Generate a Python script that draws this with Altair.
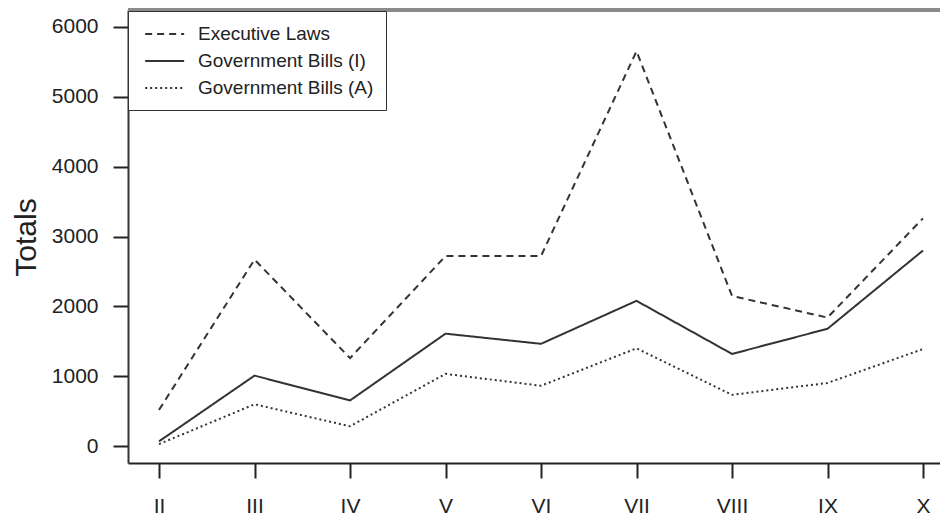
import altair as alt
import pandas as pd

labels = ["II", "III", "IV", "V", "VI", "VII", "VIII", "IX", "X"]
exec_laws = [520, 2670, 1260, 2720, 2720, 5650, 2150, 1840, 3260]
gov_bills_i = [70, 1010, 655, 1610, 1465, 2080, 1320, 1680, 2800]
gov_bills_a = [30, 600, 285, 1035, 865, 1400, 735, 905, 1390]

series_names = ["Executive Laws", "Government Bills (I)", "Government Bills (A)"]
series_vals = [exec_laws, gov_bills_i, gov_bills_a]

rows = []
for name, vals in zip(series_names, series_vals):
    for i, (lab, v) in enumerate(zip(labels, vals)):
        rows.append({"idx": i + 2, "label": lab, "series": name, "value": v})
df = pd.DataFrame(rows)

W, H = 812, 453
FONT = "Liberation Sans"
label_expr = "[" + ",".join("'%s'" % l for l in labels) + "][datum.value - 2]"

lines = alt.Chart(df).mark_line(color="#333333", strokeWidth=2).encode(
    x=alt.X("idx:Q",
            scale=alt.Scale(domain=[1.675, 10.178], nice=False, zero=False),
            axis=alt.Axis(values=list(range(2, 11)), labelExpr=label_expr, title=None,
                          grid=False, tickSize=15, tickWidth=2, domainWidth=2,
                          domainColor="#222222", tickColor="#222222",
                          labelFontSize=21, labelPadding=17, labelColor="#222222",
                          labelFont=FONT)),
    y=alt.Y("value:Q",
            scale=alt.Scale(domain=[-240, 6240], nice=False, zero=False),
            axis=alt.Axis(values=[0, 1000, 2000, 3000, 4000, 5000, 6000], format="d",
                          title="Totals", grid=False, tickSize=15, tickWidth=2,
                          domainWidth=2, domainColor="#333333", tickColor="#222222",
                          labelFontSize=21, labelPadding=15, labelColor="#222222",
                          labelFont=FONT, titleFont=FONT, titleFontSize=30,
                          titleFontWeight="normal", titleColor="#222222",
                          titleAngle=-90, titleBaseline="alphabetic", titleAlign="center",
                          titleX=-93, titleY=227)),
    strokeDash=alt.StrokeDash("series:N",
        scale=alt.Scale(domain=series_names, range=[[7, 5], [1, 0], [2, 3]]),
        legend=alt.Legend(title=None, orient="none", legendX=0, legendY=1,
                          symbolType="M-0.6,0H3.4", symbolSize=380, symbolStrokeWidth=2,
                          symbolStrokeColor="#333333", symbolFillColor="transparent",
                          labelFontSize=19, labelFont=FONT,
                          labelColor="#222222", labelOffset=36, rowPadding=6,
                          padding=12, strokeColor="#333333", fillColor="white",
                          labelLimit=400)),
    detail="series:N",
    order="idx:Q",
)

top_border = alt.Chart(df).mark_rule(color="#8a8a8a", strokeWidth=2.5).encode(
    x=alt.value(0), x2=alt.value(W), y=alt.value(0)
)

chart = alt.layer(lines, top_border).properties(
    width=W, height=H,
    autosize=alt.AutoSizeParams(type="none"),
    padding={"left": 128, "top": 10, "right": 0, "bottom": 54},
).configure_view(stroke=None).configure(background="white")

chart.save("out.html", embed_options={"renderer": "svg", "actions": False})
